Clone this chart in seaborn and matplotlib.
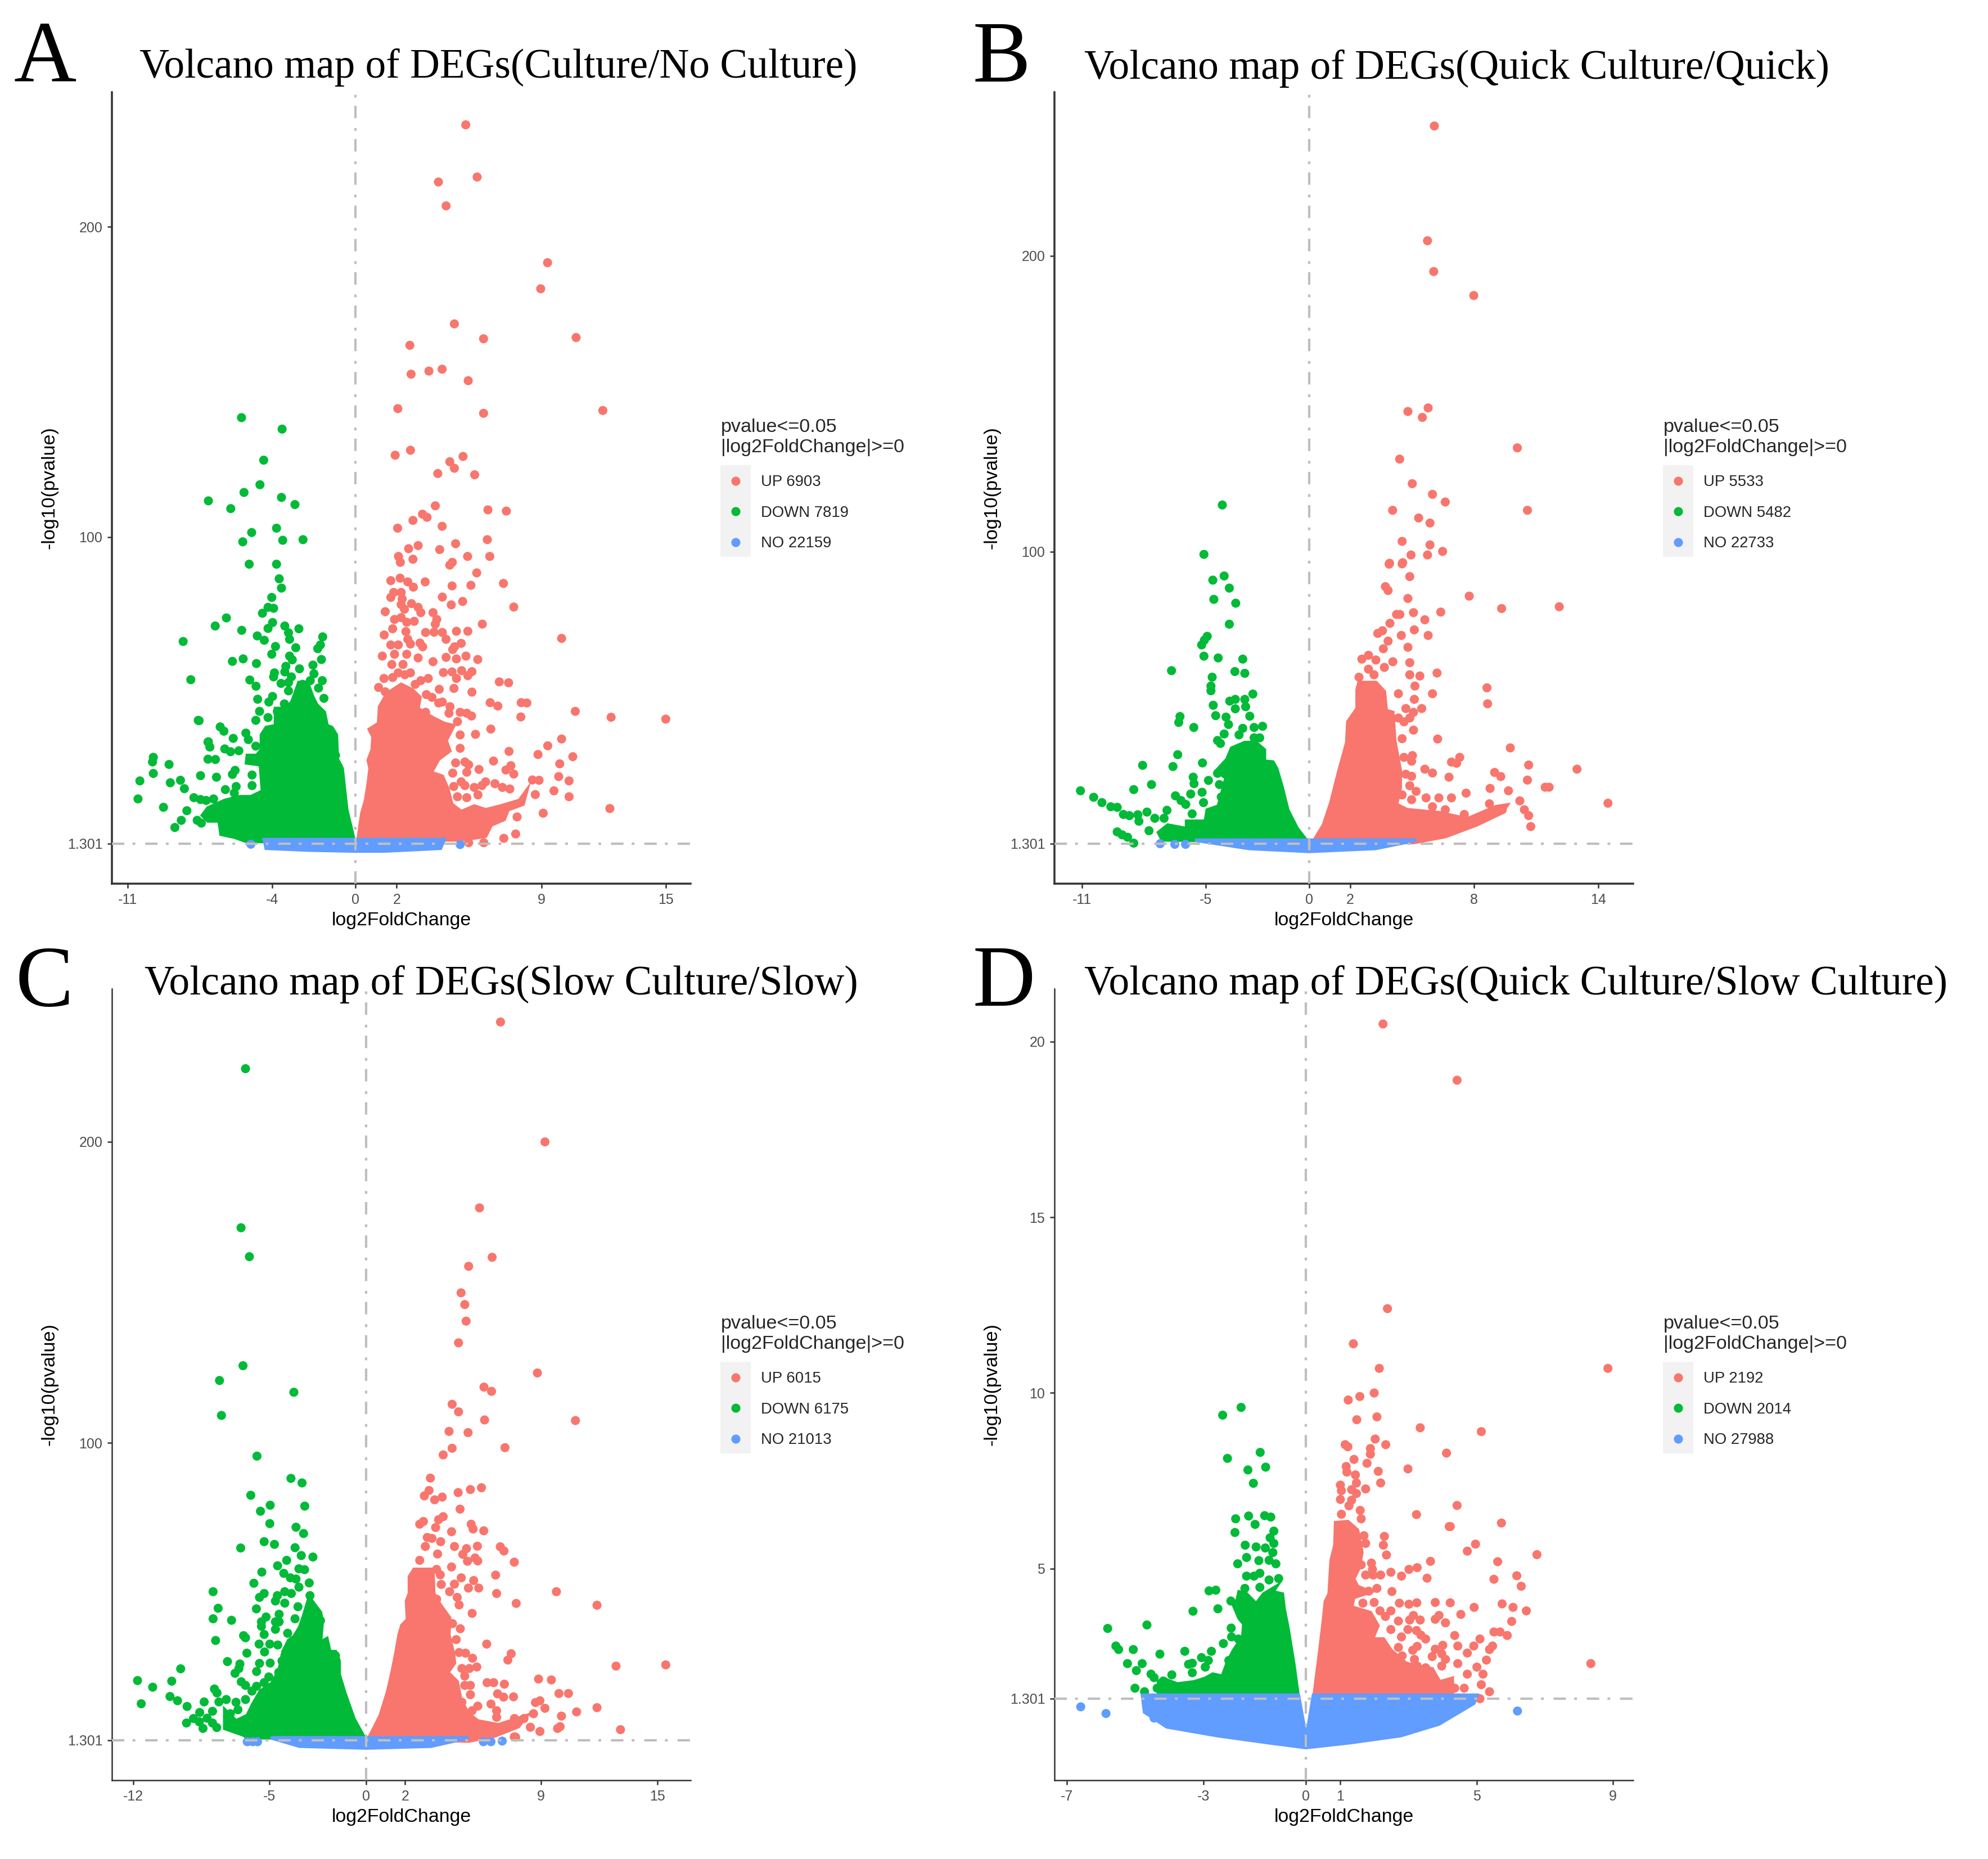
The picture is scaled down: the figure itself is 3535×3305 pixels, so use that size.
import matplotlib
matplotlib.use("Agg")
import matplotlib.pyplot as plt
from matplotlib.patches import Rectangle
import pandas as pd
import seaborn as sns

W, H = 3535, 3305

titles = ["Volcano map of DEGs(Culture/No Culture)", "Volcano map of DEGs(Quick Culture/Quick)",
          "Volcano map of DEGs(Slow Culture/Slow)", "Volcano map of DEGs(Quick Culture/Slow Culture)"]
letters = ["A", "B", "C", "D"]
x_ticks = [[-11, -4, 0, 2, 9, 15], [-11, -5, 0, 2, 8, 14], [-12, -5, 0, 2, 9, 15], [-7, -3, 0, 1, 5, 9]]
y_ticks = [[1.301, 100, 200], [1.301, 100, 200], [1.301, 100, 200], [1.301, 5, 10, 15, 20]]
x_limits = [(-11.75, 16.2), (-12.33, 15.7), (-13.1, 16.7), (-7.37, 9.59)]
y_limits = [(-11.6, 243.3), (-12.2, 255.3), (-12, 250.7), (-1.02, 21.5)]
up_labels = ["UP 6903", "UP 5533", "UP 6015", "UP 2192"]
down_labels = ["DOWN 7819", "DOWN 5482", "DOWN 6175", "DOWN 2014"]
no_labels = ["NO 22159", "NO 22733", "NO 21013", "NO 27988"]

# single points (log2FoldChange, -log10 p)
a_up = [(5.34,232.8),(5.89,216),(4.02,214.4),(4.39,206.7),(9.29,188.4),(8.96,180),(4.79,168.7),(6.2,163.9),(10.67,164.3),(2.64,161.8),
(2.7,152.5),(3.56,153.5),(4.2,154.1),(5.46,150.4),(2.06,141.4),(6.2,139.9),(11.96,140.8),(1.93,126.4),(2.67,128),(5.21,126),
(4.57,124.3),(4.79,122.2),(3.99,120.5),(5.77,120.1),(3.87,110.1),(3.25,107.4),(6.41,108.8),(7.3,108.4),(2.05,102.9),(2.79,105.4),
(3.47,106.4),(4.2,103.5),(6.38,99.2),(4.85,97.9),(4.08,96),(2.09,93.8),(2.79,92.9),(2.18,91.9),(2.58,96.3),(3.04,97.3),
(5.43,93.8),(6.5,93.8),(4.69,91.9),(4.57,91),(12.36,42),(15,41.4),(12.3,12.6),
(1.72,86),(2.17,86.8),(2.54,85.6),(2.81,83.9),(3.38,85.6),(4.68,84.3),(5.59,84.5),(5.87,88.5),(7.16,85.1),(4.21,80.7),
(4.64,78.2),(5.19,79.3),(7.66,77.5),(1.45,76),(3.76,75.7),(3.94,73.5),(3.87,72),(6.14,72),(1.86,82.2),(2.22,82.2),
(1.72,80.6),(2.27,80.1),(2.22,78.3),(2.38,76.8),(2.72,78.6),(3.04,77.4),(3.17,75.7),(2.22,74.1),(1.9,73.5),(2.49,72.6),
(2.85,72.9),(1.81,70.5),(1.4,68.5),(2.45,69.6),(2.54,67.1),(3.4,69.3),(3.81,69.4),(4.21,69.3),(4.39,67.1),(4.89,69.7),
(5.44,69.7),(9.97,67.4),(5.12,65.8),(4.8,64.7),(4.71,63.8),(1.72,65.3),(2.08,65.3),(3.13,65.9),(3.26,64.7),(2.67,65.6),
(1.31,61.7),(1.9,62.3),(2.49,62.3),(3.04,61.1),(4.39,61.3),(4.89,60.8),(5.35,61.7),(5.92,60.6),(3.76,59.9),(1.77,59),
(2.31,59),(2.67,56.3),(2.08,56.3),(1.39,54.5),(1.81,54.8),(2.4,55.7),(4.26,56.4),(4.68,56.6),(5.14,57),(5.64,56.7),
(4.89,54.5),(5.44,55.4),(3.53,54.5),(3.17,53.8),(2.9,52.6),(6.96,53.4),(7.41,53.1),(1.13,51.6),(1.45,50.2),(4.06,51),
(4.77,51.3),(5.64,50.1),(3.44,49.3),(3.71,48.4),(4.03,46.6),(4.21,46.9),(4.58,45.4),(4.53,43.3),(6.52,46.7),(6.89,45.6),
(8.02,46.7),(8.29,46.6),(3.4,43.6),(5.07,43.6),(5.39,43.3),(5.62,42.4),(8,42.1),(10.63,43.9),(4.94,40.6),(6.55,38.2),
(5.07,36.3),(5.81,36.5),(9.97,35),(5.07,32),(9.3,32.8),(7.43,31),(8.83,30),(10.51,29.3),(6.68,27.9),(4.85,27.3),
(5.3,27.6),(5.48,26.7),(9.88,27),(5.98,25.2),(5.39,24.3),(4.71,24),(7.28,25),(7.52,26.4),(7.66,23.7),(9.83,22.9),
(8.56,21.8),(8.88,21.7),(10.33,21.5),(5.12,21.2),(6.3,21.2),(4.76,19.7),(5.3,20),(5.75,19.4),(6.12,20),(6.75,20.6),
(7.11,19.4),(7.47,18.9),(9.6,18.3),(4.94,16.4),(5.39,16.1),(5.93,17),(10.33,16.4),(8.7,17.1),(9.08,11.1),(7.82,9.9),
(7.75,4.4),(7.18,3),(6.21,1.6),(5.48,1.6)]
a_down = [(-5.49,138.5),(-3.53,134.8),(-4.42,124.8),(-4.6,116.9),(-5.37,114.4),(-7.09,111.7),(-3.56,112.8),(-2.91,110.5),(-6.01,109.2),(-3.8,102.9),
(-5,101.5),(-5.43,98.5),(-3.5,99),(-2.52,99.2),(-5.12,91.3),(-3.8,91.3),(-8.31,66.4),(-7.94,54.1),(-7.58,41),(-9.75,29.1),
(-9.79,27.6),(-8.99,26.8),(-9.75,23.9),(-10.4,21.5),(-8.44,21.7),(-8.93,20.9),(-8.25,19),(-10.49,15.7),(-7.79,16.1),(-9.26,13),
(-8.13,11.9),(-8.71,6.5),(-8.4,8.8),(-7.63,8.8),(-7.09,34.1),
(-3.67,86.6),(-3.56,83.6),(-4.03,80.6),(-4.21,77.4),(-3.94,77.1),(-4.48,75.5),(-6.22,74),(-6.76,71.4),(-5.48,70),(-3.99,72.5),
(-4.21,70.6),(-3.4,71.4),(-3.22,69.2),(-3.17,67.1),(-2.72,70.5),(-1.57,67.9),(-4.73,68.2),(-4.39,66.8),(-3.85,64.8),(-2.87,64.4),
(-1.68,65.3),(-1.81,64.1),(-4.03,62.3),(-5.93,60),(-5.41,60.8),(-4.77,59.3),(-3.17,61.7),(-3.04,60.5),(-1.63,60.6),(-3.35,58.4),
(-3.4,56.6),(-2.69,57.6),(-2.04,58.8),(-1.99,56),(-3.9,56.3),(-3.94,55),(-3.08,55),(-5.09,54),(-4.79,52),(-3.58,52.9),
(-3.22,53.2),(-3.22,50.5),(-1.59,53.8),(-2.17,53.8),(-2.54,52.6),(-3.99,48.7),(-4.17,46.9),(-4.71,47.8),(-1.51,48.1),(-3.42,46.3),
(-2.76,47.2),(-1.77,51.4),(-4.62,43.9),(-3.76,43.9),(-3.22,43.6),(-4.8,41),(-4.21,41.9),(-7.54,40.9),(-6.52,38.9),(-6.34,37.5),
(-5.28,36.9),(-5.89,35.2),(-7.11,34),(-7.02,32.4),(-5.16,34.8),(-6.3,31.8),(-6.02,30.9),(-5.62,31.2),(-4.8,32.7),(-7.11,28.5),
(-6.75,28.4),(-0.95,29.7),(-5.03,28.5),(-5.8,24.9),(-5.93,23.6),(-7.47,23.2),(-6.7,22.7),(-4.98,23.4),(-4.98,20),(-6.27,18.7),
(-5.75,19.7),(-5.84,17.6),(-7.47,15.5),(-7.2,15.2),(-6.84,15.7),(-7.43,7.9),(-0.82,26)]
a_no = [(-5.04,1.1),(5.07,1)]
b_up = [(6.07,243.9),(5.74,205.1),(6.04,194.7),(7.98,186.6),(5.77,148.6),(4.79,147.4),(5.49,145.4),(10.09,135.1),(4.39,131.3),(5,123),
(5.98,119.4),(6.6,116.8),(4.05,114),(10.58,114),(5.31,111.4),(5.86,109.7),(4.51,103.5),(5.86,102.3),(6.47,100.1),(3.9,96.1),
(4.54,96.3),(4.94,98.9),(5.74,98.9),(7.76,85),(9.33,80.8),(12.12,81.4),(6.38,79.6),(5.61,77),(5.77,71.7),(6.2,59),
(5.37,58),(8.62,54),(5.98,52),(8.65,48.6),(5.46,47),(6.23,36.7),(9.75,33.7),(7.3,30.5),(6.9,28.9),(7.15,28.5),
(10.64,27.9),(12.98,26.5),(5.61,26.5),(5.98,25.2),(8.99,25.4),(9.29,24),(6.78,23.8),(10.58,22.8),(11.44,20.4),(11.63,20.4),
(8.77,20),(9.66,19.2),(7.61,18.4),(14.48,15),(5.67,16.8),(6.29,16.8),(6.9,16.8),(10.21,15.8),(8.74,14.8),(10.43,12.8),
(10.64,10.8),(10.74,7.1),(7.52,11.2),(8.44,10.4),(9.36,12.8),(5.98,13.8),(6.6,12.8),
(3.88,95.8),(4.51,95.9),(4.88,91.6),(3.7,88.2),(3.83,86.9),(4.79,84.2),(4.24,78.8),(4.4,78.8),(5.06,79.4),(3.92,75.8),
(3.56,73.3),(3.33,72.4),(5.1,73.6),(4.47,71.7),(3.83,69.8),(3.6,67.2),(4.79,67.7),(2.88,65),(2.56,63.7),(3.24,63.4),
(4.06,62.8),(3.65,60.9),(4.88,62.5),(2.88,60.3),(3.15,58.4),(4.88,58.4),(2.42,57.6),(5.13,54.6),(4.33,52),(5.1,50.1),
(4.69,47),(5.06,45.7),(4.88,43.8),(4.33,43.8),(4.6,42.5),(5.06,39.7),(4.51,36.8),(4.6,30.5),(5.01,31.1),(4.97,29.2),
(4.69,24.8),(4.97,24.1),(4.88,20.9),(4.51,17.8),(5.19,19),(4.97,16.2)]
b_down = [(-4.2,115.8),(-5.09,99.1),(-11.07,19.2),(-10.43,17),(-10.03,15.2),(-9.6,13.8),(-9.29,13.6),(-8.99,11.2),(-9.29,5.3),(-9.05,4.3),
(-4.11,91.8),(-4.66,90.4),(-3.86,87.7),(-4.61,83.9),(-3.55,82.6),(-3.86,75.5),(-4.93,71.4),(-5.07,70.1),(-5.2,68.5),(-5.09,64.7),
(-4.4,64.1),(-3.21,63.7),(-6.66,59.8),(-3.59,59.5),(-3.11,58.9),(-4.69,57.6),(-4.75,54.6),(-4.75,53),(-2.72,51.9),(-3.57,50.1),
(-3.84,49.5),(-3.11,50.1),(-3.57,46.9),(-3.07,47.6),(-4.64,48.1),(-4.52,44.6),(-4.02,44.1),(-2.87,44.4),(-6.25,44.3),(-6.31,42.3),
(-5.58,40.6),(-3.9,41.6),(-3.21,40.3),(-2.66,40.6),(-2.25,41),(-3.39,38.1),(-4.11,38.4),(-2.66,37.1),(-2.39,37.1),(-4.43,36.2),
(-4.29,35.2),(-6.36,31.4),(-8.06,27.8),(-6.59,27.4),(-5.16,28.6),(-5.61,23.8),(-5.57,21.6),(-4.87,22.7),(-4.43,25.1),(-4.34,21.3),
(-7.63,21.3),(-8.49,19.6),(-5.73,18.1),(-5.18,18.7),(-6.47,17.5),(-6.2,15.9),(-5.97,14.6),(-5.11,15.2),(-4.25,17.1),(-6.88,12.6),
(-7.85,12),(-8.7,10.8),(-8.29,11.1),(-8.24,8.9),(-7.47,9.9),(-7.02,9.9),(-7.75,5.7),(-8.79,3.5),(-8.49,1.5),(-5.66,11.4)]
b_no = [(-7.21,1.3),(-6.5,1.1),(-5.98,1.1)]
c_up = [(6.91,239.7),(9.2,199.9),(5.83,178),(6.48,161.6),(5.27,158.6),(4.88,149.8),(5.07,145.9),(5.14,140.4),(4.75,133.2),(8.81,123.2),
(6.06,118.5),(6.45,117.1),(4.42,112.8),(4.75,110.3),(6.09,107.6),(10.77,107.4),(4.26,103.8),(5.24,103.4),(4.42,98.2),(7.14,98.4),
(3.96,96),(9.79,50.6),(11.88,46.1),(12.86,25.9),(15.42,26.3),(8.87,21.6),(9.53,21.3),(9.92,16.8),(10.41,16.8),(8.94,14.4),
(8.71,13.8),(11.88,12.1),(10.83,10.7),(9.2,11.9),(10.05,9.3),(9.98,5.8),(9.85,5.2),(13.09,4.8),(8.12,8.5),(8.61,10.1),
(8.94,4.2),(8.45,5.6),(7.63,8.5),(7.69,2.3),
(3.3,88.3),(3.23,84.2),(2.99,82.4),(3.52,81.1),(3.91,82),(4.73,83.5),(5.36,84.5),(5.93,85.1),(4.83,78),(3.96,75.5),
(3.72,74.5),(2.94,73.9),(2.75,73),(3.57,71.9),(5.4,73),(5.5,71.4),(4.39,70.5),(6.05,70.8),(3.14,68.6),(3.38,68.3),
(3.04,65.6),(3.83,67.2),(4.54,65.6),(5.16,64.9),(5.72,65.7),(6.9,65.5),(7.09,64.1),(3.67,63.1),(4.97,63),(5.6,61.8),
(5.21,60.7),(5.74,60.8),(2.75,61),(7.62,60.4),(4.39,58.8),(3.62,58),(3.81,56.2),(6.66,56.1),(4.89,55.2),(5.53,54.3),
(3.86,53),(4.54,53.1),(5.26,51.8),(5.79,51.8),(4.29,50.6),(6.71,50),(4.68,48.7),(7.72,46.7),(3.62,48.1),(4.78,46.2),
(5.45,43.4),(4.44,40),(4.84,38.3),(4.63,34.7),(6.2,33.2),(7.46,30),(7.29,27.9),(4.78,30.4),(5.11,30.2),(5.47,28.5),
(4.92,25.1),(5.31,25.1),(5.69,25.6),(5.07,22.6),(5.07,19.5),(5.36,19.5),(6.22,20.4),(6.56,20.4),(7.11,19.9),(6.76,16.7),
(7.07,15.6),(7.58,15.7),(5.36,16.4),(6.42,13.3),(6.71,11.1),(5.74,12.6),(5.45,11.1),(6.71,8.9),(7.62,2.4),(4.92,13.9)]
c_down = [(-6.22,224.2),(-6.45,171.4),(-6.02,161.8),(-6.35,125.6),(-7.56,120.7),(-3.73,116.8),(-7.46,109.1),(-5.63,95.6),(-7.89,50.6),(-7.63,45.1),
(-7.89,41.6),(-7.76,34.4),(-9.56,25),(-11.78,21.1),(-10.02,20.9),(-11,18.9),(-7.82,18.3),(-7.69,17),(-10.11,15.8),(-9.72,14.4),
(-11.59,13.4),(-8.35,14),(-7.59,14),(-9.23,12.5),(-8.58,10.5),(-7.92,10.9),(-9.26,7),(-8.41,5.2),(-7.92,7),(-8.9,8.5),
(-8.6,7.4),(-8.2,8.6),(-7.7,5.5),
(-3.88,88.2),(-3.31,86.7),(-5.95,82.6),(-4.95,79.3),(-5.45,77.3),(-3.17,79),(-4.97,73.2),(-3.62,72),(-3.23,69.9),(-5.26,67.2),
(-4.73,66.3),(-6.47,65.1),(-3.67,65.2),(-3.35,62.6),(-2.75,62.1),(-4.1,61),(-4.57,59.2),(-3.47,58.2),(-3.18,57.9),(-5.38,57.1),
(-4.25,56.7),(-3.91,55.2),(-3.62,54.8),(-2.94,53.5),(-3.47,52.1),(-5.79,53.4),(-5.26,50),(-5.5,48.7),(-4.58,49.3),(-4.68,47.5),
(-4.2,50.6),(-3.86,50),(-4.2,46.8),(-2.9,49.3),(-3.52,45.6),(-5.66,44.9),(-5.16,42.2),(-4.49,43.1),(-3.67,41.6),(-6.94,41.1),
(-5.4,40.6),(-5.4,39.1),(-4.68,40.6),(-4.49,40.6),(-4.68,38.1),(-2.36,41),(-5.26,36.4),(-4.05,36.8),(-6.32,36),(-6.22,35.3),
(-5.52,33.2),(-4.97,33.2),(-4.56,32.9),(-6.15,30.2),(-5.24,30.6),(-1.59,29.4),(-7.15,27.4),(-6.51,26.6),(-5.5,26.8),(-4.95,26.9),
(-4.34,27.6),(-6.56,25.1),(-6.76,23.5),(-5.65,24.1),(-4.51,23.8),(-5.02,22.3),(-6.44,20.7),(-6.22,19.5),(-5.89,17.6),(-5.65,19.2),
(-5.26,20.4),(-7.21,14.8),(-6.22,14.8),(-6.71,13.9),(-6.61,11.4),(-7,10.1)]
c_no = [(-5.84,0.8),(-6.13,0.8),(-5.6,0.8),(6.03,0.8),(6.42,0.8),(7,1)]
d_up = [(2.26,20.5),(4.43,18.9),(2.39,12.4),(1.39,11.4),(2.15,10.7),(8.85,10.7),(1.24,9.8),(1.58,9.9),(2,10),(5.14,8.9),
(4.43,6.8),(4.23,6.2),(5.73,6.3),(4.97,5.7),(4.73,5.5),(6.77,5.4),(5.62,5.2),(5.51,4.7),(6.18,4.8),(6.31,4.5),
(5.75,4),(6.07,3.9),(6.46,3.8),(4.93,3.9),(4.54,3.7),(6.03,3.5),(5.51,3.2),(5.69,3.2),(5.9,3.1),(5.1,3),
(4.36,3.1),(5.47,2.8),(5.38,2.7),(4.92,2.8),(4.73,2.6),(4.45,2.8),(8.35,2.3),(5.29,2.4),(4.45,2.3),(5.01,2.2),
(5.19,2),(4.73,2),(5.14,1.7),(5.38,1.5),(5.1,1.3),(4.36,1.6),(4.64,1.6),
(1.49,9.24),(2.08,9.32),(3.35,9.01),(2.03,8.69),(2.34,8.53),(1.15,8.53),(1.23,8.47),(4.12,8.29),(1.89,8.42),(1.89,8.26),
(1.41,8.11),(1.79,8),(2.99,7.84),(1.18,7.91),(1.2,7.75),(2.12,7.77),(1.45,7.67),(2.19,7.44),(1.48,7.44),(1.01,7.38),
(1.04,7.22),(1.75,7.27),(1.34,7.25),(1.48,7.14),(1.01,6.97),(1.34,6.95),(1.26,6.79),(1.04,6.55),(1.59,6.66),(1.62,6.42),
(3.24,6.54),(4.2,6.2),(1.7,5.94),(1.75,5.72),(2.3,5.92),(2.27,5.67),(2.36,5.39),(3.65,5.21),(1.92,5.16),(1.95,4.98),
(1.62,5.11),(1.75,4.82),(1.97,4.82),(2.19,4.82),(2.49,4.9),(2.8,4.79),(3.02,4.98),(3.26,5.03),(3.55,4.73),(2.52,4.35),
(2.08,4.44),(1.84,4.36),(1.67,4.02),(2,4.04),(2.74,4.02),(3.02,3.99),(3.25,4.03),(3.79,4.04),(4.23,4.03),(2.17,3.8),
(2.49,3.8),(2.33,3.64),(3.15,3.67),(3.9,3.67),(3.35,3.54),(3.79,3.56),(4.09,3.46),(2.71,3.51),(3.04,3.54),(2.49,3.27),
(2.99,3.27),(3.24,3.24),(3.37,3.11),(3.51,3),(2.8,3.06),(2.71,2.76),(3.26,2.79),(3.13,2.68),(4.01,2.82),(3.79,2.71),
(2.82,2.52),(3.18,2.42),(3.7,2.5),(3.98,2.58),(3.26,2.23),(3.51,2.18),(3.98,2.23),(4.09,2.42)]
d_down = [(-4.66,3.4),(-5.81,3.3),(-5.57,2.8),(-5.49,2.7),(-5.06,2.7),(-4.97,2.1),(-4.54,2),(-5.23,2.3),(-4.8,2.3),(-4.45,1.9),
(-5.01,1.6),(-4.73,1.5),(-4.36,1.6),(-4.17,1.8),
(-2.44,9.37),(-1.9,9.59),(-1.34,8.31),(-2.3,8.14),(-1.7,7.81),(-1.18,7.89),(-1.54,7.43),(-2.06,6.42),(-1.68,6.5),(-1.49,6.26),
(-1.21,6.51),(-1.03,6.47),(-2.08,6.03),(-0.94,6.07),(-1.05,5.88),(-0.94,5.72),(-1.78,5.67),(-1.46,5.62),(-1.19,5.59),(-0.97,5.46),
(-1.74,5.32),(-1.38,5.23),(-1.08,5.24),(-0.88,5.14),(-2,5.14),(-1.74,4.79),(-1.52,4.79),(-1.35,4.87),(-0.8,4.72),(-1.08,4.68),
(-1.35,4.47),(-2.84,4.37),(-2.64,4.39),(-1.79,4.44),(-2.2,4.08),(-3.31,3.79),(-2.58,3.86),(-1.57,3.88),(-2.19,3.31),(-2.42,2.87),
(-2.18,3.06),(-1.98,3),(-3.55,2.65),(-2.77,2.65),(-4.28,2.57),(-3.33,2.31),(-3.44,2.28),(-3.06,2.47),(-2.86,2.39),(-2.95,2.2),
(-3.33,2.04),(-3.93,1.98),(-2.07,2.58),(-2.26,2.39)]
d_no = [(-6.6,1.07),(-5.86,0.88),(6.2,0.95),(-4.64,1.0),(-4.45,0.75)]

# outlines of the solid clouds, where single points can't be told apart
a_up_cloud = [(0.14,2.5),(0.32,11),(0.5,15.2),(0.63,20.6),(0.72,25.5),(0.63,28.2),(0.82,31.5),(0.86,35.7),(0.68,38.1),(1.13,40),
(1.18,45.4),(1.54,49.6),(2.22,52.6),(2.76,50.8),(3.13,48.4),(3.03,44.8),(3.76,41.8),(4.3,40),(4.76,39.3),(4.39,34.5),
(4.57,31.2),(4.03,28.5),(3.67,24.2),(4.21,23),(4.48,18.8),(4.66,14),(5.12,11.6),(5.75,13.4),(6.3,12.2),(7.02,13.4),
(7.93,15.2),(8.29,18.5),(8.11,14),(7.38,12.2),(7.2,9.1),(6.57,7.3),(6.3,3.7),(5.75,3.1),(5.03,2.5)]
a_down_cloud = [(-0.06,2.5),(-0.41,12.2),(-0.63,25.5),(-0.86,28.5),(-0.91,36.3),(-1.13,38.7),(-1.36,39.3),(-1.49,43.6),(-1.86,46),(-2.04,48.4),
(-2.31,53.2),(-2.72,53.2),(-3.04,47.2),(-3.31,44.8),(-3.85,44.8),(-3.85,39.3),(-4.3,38.7),(-4.53,36.3),(-4.53,31.5),(-4.76,29.7),
(-5.21,29.7),(-5.25,27.3),(-4.58,26.7),(-4.48,18.2),(-5.03,16.4),(-5.57,16.4),(-6.3,15.2),(-7.11,12.8),(-7.38,10.4),(-7.11,8.6),
(-6.57,8.6),(-6.48,4.3),(-5.84,3.4),(-5.21,1.9)]
a_no_cloud = [(-4.39,2.6),(4.3,2.6),(4.12,-0.2),(1.4,-1.1),(0,-1.1),(-2.22,-0.8),(-4.3,-0.2)]
b_up_cloud = [(0.2,1.9),(0.7,7.6),(1.06,15.2),(1.43,25.4),(1.83,35.5),(1.88,42.5),(2.33,47),(2.33,53.3),(2.42,55.8),(3.24,55.8),
(3.65,52.7),(3.74,46.3),(4.06,45.7),(4.15,36.2),(4.42,26),(4.42,20.3),(4.24,14.6),(4.75,12.8),(6.29,11.8),(7.67,9.7),
(9.05,13.8),(9.6,14.4),(9.36,11.8),(8.13,7.7),(6.6,3.7),(5.06,1.7)]
b_down_cloud = [(-0.07,1.9),(-0.57,6.4),(-1.03,12.7),(-1.3,20.3),(-1.57,26.7),(-1.75,28.9),(-2.16,29.2),(-2.16,33),(-2.57,35.5),(-3.11,35.5),
(-3.75,33.6),(-3.98,29.8),(-4.48,26),(-4.02,23.5),(-4.39,14),(-4.93,12.7),(-5.02,8.9),(-5.93,8.9),(-5.93,6.4),(-6.84,7.6),
(-7.29,5.1),(-7.11,2.6)]
b_no_cloud = [(-5.52,2.5),(5.21,2.5),(3.22,-0.3),(0,-1.3),(-2.91,-0.3)]
c_up_cloud = [(0.14,2.1),(0.72,9.5),(1.11,17.6),(1.35,24.5),(1.54,30.7),(1.69,36.3),(1.83,39.4),(2.12,41.3),(2.07,47.5),(2.22,50),
(2.22,55.6),(2.46,58),(3.43,58),(3.47,50),(3.81,46.2),(4.29,41.9),(4.25,36.3),(4.49,30),(4.54,26.9),(4.2,23.8),
(4.68,20.7),(4.87,14.5),(5.26,10.1),(5.74,7.7),(6.8,6.4),(8.28,9.5),(7.83,5.8),(6.61,2.7),(5.26,1)]
c_down_cloud = [(-0.1,2.1),(-0.63,8.3),(-1.11,17),(-1.4,23.2),(-1.4,27.6),(-1.59,30.7),(-1.88,30.7),(-2.03,35),(-2.36,33.8),(-2.27,40.6),
(-2.36,43.7),(-2.94,48.7),(-3.23,42.5),(-3.43,38.8),(-3.72,35.7),(-4,34.4),(-4.29,30.7),(-4.39,27.6),(-4.49,24.5),(-4.87,20.1),
(-5.45,17.6),(-5.84,13.3),(-6.13,9.5),(-6.71,7.7),(-7.29,11.4),(-7.29,5.2),(-6.32,3),(-6.13,2.1)]
c_no_cloud = [(-4.92,2.1),(5.26,2.1),(3.33,-0.7),(0,-1.3),(-3.43,-0.7)]
d_up_cloud = [(0.24,1.38),(0.41,2.68),(0.52,3.59),(0.57,4.07),(0.68,4.28),(0.74,5.24),(0.85,5.67),(0.87,6.31),(1.23,6.34),(1.51,6.1),
(1.64,5.46),(1.56,5.03),(1.4,4.71),(1.51,4.5),(1.89,4.34),(1.4,4.18),(1.34,3.91),(1.89,3.75),(2.11,3.38),(1.95,3),
(2.27,3),(2.49,2.68),(2.93,2.31),(3.37,2.2),(3.7,2.15),(3.92,1.78),(4.29,1.88),(4.29,1.38)]
d_down_cloud = [(-0.23,1.38),(-0.36,2.31),(-0.53,3.32),(-0.64,3.86),(-0.69,4.28),(-0.97,4.34),(-0.86,4.5),(-1.24,4.28),(-1.46,4),(-1.74,4.28),
(-1.96,4.34),(-2.01,4.12),(-2.12,3.96),(-1.96,3.59),(-1.82,3.43),(-1.85,3.06),(-2.12,2.68),(-2.29,2.36),(-2.45,1.94),(-2.73,2),
(-2.95,1.88),(-3.28,1.78),(-3.77,1.72),(-4.21,1.88),(-4.32,1.78),(-4.32,1.38)]
d_no_cloud = [(-4.79,1.4),(-4.73,0.92),(-4.08,0.5),(-2.6,0.25),(-1.11,0.05),(0,-0.09),(1.3,0.05),(2.78,0.25),(3.9,0.58),(4.92,1.17),
(5.01,1.4),(0.22,1.4),(0.04,0.33),(-0.02,0.33),(-0.22,1.4)]

up_points = [a_up, b_up, c_up, d_up]
down_points = [a_down, b_down, c_down, d_down]
no_points = [a_no, b_no, c_no, d_no]
up_clouds = [a_up_cloud, b_up_cloud, c_up_cloud, d_up_cloud]
down_clouds = [a_down_cloud, b_down_cloud, c_down_cloud, d_down_cloud]
no_clouds = [a_no_cloud, b_no_cloud, c_no_cloud, d_no_cloud]

RED, GREEN, BLUE = "#F8766D", "#00BA38", "#619CFF"

sns.set_theme(style="ticks")
plt.rcParams["font.family"] = ["Liberation Sans", "DejaVu Sans"]

fig = plt.figure(figsize=(W / 300, H / 300), dpi=300)


def px(x, y):
    return x / W, 1 - y / H


# pixel layout of each panel, the later ones are shifted copies of A
x_shift = [0, 1676, 0, 1676]
y_shift = [0, 0, 1594, 1594]
title_x = [248, 1928, 257, 1928]
title_y = [138, 140, 1768, 1768]
letter_x = [25, 1730, 28, 1730]
letter_y = [143, 145, 1788, 1788]
spine_w = [0.85, 0.85, 0.6, 0.6]

for i in range(4):
    dx, dy = x_shift[i], y_shift[i]
    left, bottom = px(199 + dx, 1571 + dy)
    ax = fig.add_axes([left, bottom, 1029 / W, 1407 / H])

    df = pd.concat([
        pd.DataFrame(up_points[i], columns=["fc", "p"]).assign(group=up_labels[i]),
        pd.DataFrame(down_points[i], columns=["fc", "p"]).assign(group=down_labels[i]),
        pd.DataFrame(no_points[i], columns=["fc", "p"]).assign(group=no_labels[i]),
    ])
    palette = {up_labels[i]: RED, down_labels[i]: GREEN, no_labels[i]: BLUE}
    sns.scatterplot(data=df, x="fc", y="p", hue="group", palette=palette,
                    hue_order=[up_labels[i], down_labels[i], no_labels[i]],
                    s=15, linewidth=0, alpha=1, ax=ax, zorder=2)

    ax.fill(*zip(*up_clouds[i]), color=RED, lw=1.5, zorder=1.5)
    ax.fill(*zip(*down_clouds[i]), color=GREEN, lw=1.5, zorder=1.5)
    ax.fill(*zip(*no_clouds[i]), color=BLUE, lw=1.5, zorder=2.5)

    dash = (0, (5.3, 3.5, 1.2, 4.2))
    ax.axhline(1.301, color="#BEBEBE", lw=1, ls=dash, zorder=3)
    ax.axvline(0, color="#BEBEBE", lw=1, ls=dash, zorder=3)

    ax.set_xlim(x_limits[i])
    ax.set_ylim(y_limits[i])
    ax.set_xticks(x_ticks[i], [str(t) for t in x_ticks[i]])
    ax.set_yticks(y_ticks[i], [str(t) for t in y_ticks[i]])
    ax.tick_params(length=2, width=0.6, color="#333333", labelcolor="#4D4D4D", labelsize=6, pad=2)
    ax.set_xlabel("log2FoldChange", fontsize=8.15, color="black", labelpad=2.2)
    ax.set_ylabel("-log10(pvalue)", fontsize=8.2, color="black", labelpad=4)
    sns.despine(ax=ax)
    for side in ["left", "bottom"]:
        ax.spines[side].set_linewidth(spine_w[i])
        ax.spines[side].set_color("#333333")

    # grey strip behind the legend keys
    kx, ky = px(1281 + dx, 990 + dy)
    fig.add_artist(Rectangle((kx, ky), 54 / W, 163 / H, transform=fig.transFigure,
                             facecolor="#F2F2F2", edgecolor="none", zorder=-1))
    sns.move_legend(ax, "upper left", bbox_to_anchor=px(1282 + dx, 744 + dy),
                    bbox_transform=fig.transFigure, title="pvalue<=0.05\n|log2FoldChange|>=0",
                    frameon=False, fontsize=6.6, title_fontsize=8.2, alignment="left",
                    borderpad=0, borderaxespad=0, labelspacing=1.04, handlelength=1.9,
                    handletextpad=0.69)
    ax.get_legend()._legend_box.sep = 8

    tx, ty = px(title_x[i], title_y[i])
    fig.text(tx, ty, titles[i], family="Liberation Serif", fontsize=17.6, color="black", va="baseline")
    lx, ly = px(letter_x[i], letter_y[i])
    fig.text(lx, ly, letters[i], family="Liberation Serif", fontsize=37, color="black", va="baseline")

fig.savefig("out.png", dpi=300)
